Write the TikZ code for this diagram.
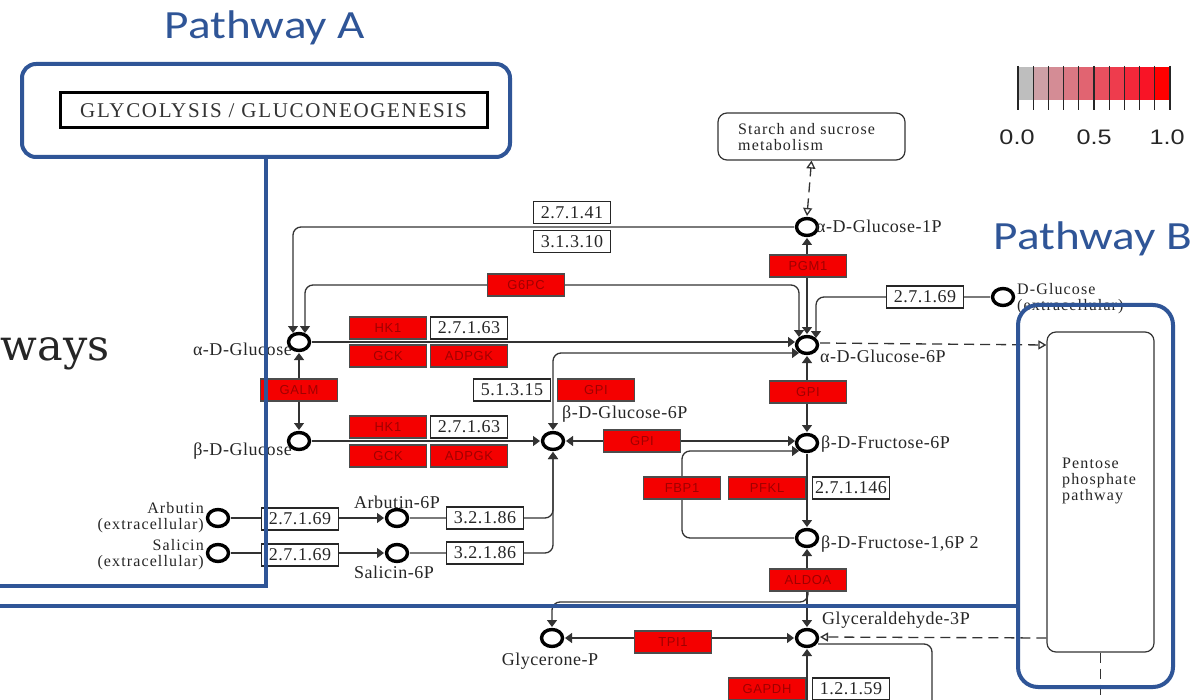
\documentclass[tikz,border=0pt]{standalone}
\usepackage{fontspec}
\usepackage{graphicx}
\usetikzlibrary{shapes.geometric,arrows.meta,calc}
\setmainfont{Liberation Serif}
\newfontfamily\keggfont{Liberation Serif}[LetterSpace=3]
\newfontfamily\keggwide{Liberation Serif}[LetterSpace=7]
\newfontfamily\enzfont{Liberation Sans}[LetterSpace=5]
\newfontfamily\calfont{Carlito}
\newfontfamily\bigserif{DejaVu Serif}
\newfontfamily\legfont{Liberation Sans}
\newfontfamily\ttlfont{Liberation Serif}[LetterSpace=8]
\definecolor{pblue}{HTML}{2F5597}
\definecolor{enzred}{HTML}{F40000}
\definecolor{enztxt}{HTML}{A00000}
\definecolor{lg0}{RGB}{190,190,190}
\definecolor{lg1}{RGB}{205,160,166}
\definecolor{lg2}{RGB}{212,140,149}
\definecolor{lg3}{RGB}{218,120,131}
\definecolor{lg4}{RGB}{225,100,113}
\definecolor{lg5}{RGB}{232,80,95}
\definecolor{lg6}{RGB}{238,60,77}
\definecolor{lg7}{RGB}{243,40,58}
\definecolor{lg8}{RGB}{248,20,38}
\definecolor{lg9}{RGB}{255,0,0}
\pgfdeclarelayer{bg}
\pgfdeclarelayer{lines}
\pgfsetlayers{bg,lines,main}
\tikzset{
  cpd/.style={ellipse, draw=black, line width=3.4pt, fill=white, minimum width=21pt, minimum height=17pt, inner sep=0pt},
  enz/.style={rectangle, draw=black!70, line width=1.1pt, fill=enzred, minimum width=77pt, minimum height=22pt, inner sep=0pt, font=\enzfont\fontsize{13}{13}\selectfont, text=enztxt},
  ecb/.style={rectangle, draw=black!85, line width=1.1pt, fill=white, minimum width=77pt, minimum height=22pt, inner sep=0pt, font=\keggfont\fontsize{18}{18}\selectfont, text=black!85},
  lbl/.style={font=\keggfont\fontsize{18}{14}\selectfont, inner sep=0pt, text=black!85},
  mlbl/.style={font=\keggwide\fontsize{16}{16}\selectfont, inner sep=0pt, text=black!85},
  conn/.style={draw=black!80, line width=1.3pt},
  karr/.style={-{Triangle[width=10pt,length=7pt]}},
  karr2/.style={{Triangle[width=10pt,length=7pt]}-{Triangle[width=10pt,length=7pt]}},
  kopen/.style={-{Triangle[open,width=9pt,length=8pt]}},
  kopen2/.style={{Triangle[open,width=9pt,length=8pt]}-{Triangle[open,width=9pt,length=8pt]}},
  kdash/.style={dash pattern=on 10pt off 6pt},
  blueline/.style={draw=pblue, line width=4pt},
}
\begin{document}
\begin{tikzpicture}[x=1pt,y=-1pt]
\useasboundingbox (0,0) rectangle (1201,700);
\begin{pgfonlayer}{bg}
\fill[white] (0,0) rectangle (1201,700);
\end{pgfonlayer}

% ---------- compounds ----------
\node[cpd] (ag1p) at (807,227) {};
\node[cpd] (ag6p) at (807,345) {};
\node[cpd] (bf6p) at (807,443) {};
\node[cpd] (bf16) at (807,538) {};
\node[cpd] (g3p) at (807,638) {};
\node[cpd] (gnp) at (552,638) {};
\node[cpd] (dglc) at (1003,297) {};
\node[cpd] (aglc) at (299,342) {};
\node[cpd] (bglc) at (299,441) {};
\node[cpd] (bg6p) at (553,441) {};
\node[cpd] (arb) at (218,518) {};
\node[cpd] (sal) at (218,553) {};
\node[cpd] (arb6) at (397,518) {};
\node[cpd] (sal6) at (397,553) {};

% ---------- compound labels ----------
\node[lbl, anchor=base west] (l-ag1p) at (816,233) {α-D-Glucose-1P};
\node[lbl, anchor=base west] (l-ag6p) at (820,362) {α-D-Glucose-6P};
\node[lbl, anchor=base west] (l-bf6p) at (821,448) {β-D-Fructose-6P};
\node[lbl, anchor=base west] (l-bf16) at (821,548) {β-D-Fructose-1,6P 2};
\node[lbl, anchor=base west] (l-g3p) at (822,624) {Glyceraldehyde-3P};
\node[lbl, anchor=base] (l-gnp) at (550,665) {Glycerone-P};
\node[mlbl, anchor=base west, align=left] (l-dglc) at (1017,311) {D-Glucose\\(extracellular)};
\node[lbl, anchor=base east] (l-aglc) at (292,355) {α-D-Glucose};
\node[lbl, anchor=base east] (l-bglc) at (292,455) {β-D-Glucose};
\node[lbl, anchor=base west] (l-bg6p) at (562,418) {β-D-Glucose-6P};
\node[lbl, anchor=base] (l-arb6) at (397,508) {Arbutin-6P};
\node[lbl, anchor=base] (l-sal6) at (394,578) {Salicin-6P};
\node[mlbl, anchor=base east, align=right] (l-arb) at (204,529) {Arbutin\\(extracellular)};
\node[mlbl, anchor=base east, align=right] (l-sal) at (204,566) {Salicin\\(extracellular)};

% ---------- enzymes (red) ----------
\node[enz] (pgm1) at (808,266) {PGM1};
\node[enz] (g6pc) at (526,285) {G6PC};
\node[enz] (hk1a) at (388,328) {HK1};
\node[enz] (gcka) at (388,356) {GCK};
\node[enz] (adpa) at (469,356) {ADPGK};
\node[enz] (galm) at (299,390) {GALM};
\node[enz] (gpia) at (596,390) {GPI};
\node[enz] (hk1b) at (388,427) {HK1};
\node[enz] (gckb) at (388,456) {GCK};
\node[enz] (adpb) at (469,456) {ADPGK};
\node[enz] (gpib) at (642,441) {GPI};
\node[enz] (gpic) at (808,392) {GPI};
\node[enz] (fbp1) at (682,488) {FBP1};
\node[enz] (pfkl) at (767,488) {PFKL};
\node[enz] (aldoa) at (808,580) {ALDOA};
\node[enz] (tpi1) at (673,642) {TPI1};
\node[enz] (gapdh) at (767,689) {GAPDH};

% ---------- EC numbers (white) ----------
\node[ecb] (ec1) at (572,212.5) {2.7.1.41};
\node[ecb] (ec2) at (572,241.5) {3.1.3.10};
\node[ecb] (ec3) at (469,328) {2.7.1.63};
\node[ecb] (ec4) at (512,390) {5.1.3.15};
\node[ecb] (ec5) at (469,427) {2.7.1.63};
\node[ecb] (ec6) at (925,297) {2.7.1.69};
\node[ecb] (ec7) at (851,488) {2.7.1.146};
\node[ecb] (ec8) at (851,689) {1.2.1.59};
\node[ecb] (ec9) at (300,519) {2.7.1.69};
\node[ecb] (ec10) at (300,555) {2.7.1.69};
\node[ecb] (ec11) at (485,518) {3.2.1.86};
\node[ecb] (ec12) at (485,553) {3.2.1.86};

% ---------- map boxes ----------
\node[draw=black!80, line width=1.2pt, rounded corners=9pt, minimum width=187pt, minimum height=47pt, inner sep=0pt, fill=white] (starch) at (811.5,136.5) {};
\node[mlbl, anchor=base west, align=left] (starchtxt) at (738,151) {Starch and sucrose\\metabolism};
\node[draw=black!80, line width=1.2pt, rounded corners=9pt, minimum width=107pt, minimum height=320pt, inner sep=0pt, fill=white] (ppp) at (1100.5,492) {};
\node[mlbl, anchor=base west, align=left] (ppptxt) at (1062,500) {Pentose\\phosphate\\pathway};
\node[draw=black, line width=3pt, minimum width=427pt, minimum height=35pt, inner sep=0pt, fill=white, font=\ttlfont\fontsize{21}{21}\selectfont, text=black!80] (glyc) at (273.5,110.5) {GLYCOLYSIS / GLUCONEOGENESIS};

\coordinate (gapend) at (807,703);
\coordinate (g3pend) at (932,703);

% ---------- connectors ----------
\begin{pgfonlayer}{lines}
\draw[conn, karr, rounded corners=8pt] ($(ag1p)+(-13,0)$) -| ($(aglc)+(-6,-9)$);
\draw[conn, karr2, rounded corners=8pt] ($(ag6p)+(-8,-8)$) |- (g6pc.east) -- (g6pc.west) -| ($(aglc)+(6,-9)$);
\draw[conn, karr] ($(aglc)+(13,0)$) -- ($(ag6p)+(-12,-3)$);
\draw[conn, karr2, rounded corners=8pt] ($(bg6p)+(0,-11)$) |- ($(ag6p)+(-8,8)$);
\draw[conn, karr2] ($(aglc)+(0,11)$) -- ($(bglc)+(0,-11)$);
\draw[conn, karr] ($(bglc)+(13,0)$) -- ($(bg6p)+(-13,0)$);
\draw[conn, karr2] ($(bg6p)+(13,0)$) -- ($(bf6p)+(-12,-2)$);
\draw[conn, karr, rounded corners=8pt] ($(bf16)+(-13,0)$) -| (fbp1.south) -- (fbp1.north) |- ($(bf6p)+(-8,8)$);
\draw[conn, karr2] ($(ag1p)+(0,11)$) -- ($(ag6p)+(0,-11)$);
\draw[conn, karr2] ($(ag6p)+(0,11)$) -- ($(bf6p)+(0,-11)$);
\draw[conn, karr] ($(bf6p)+(0,11)$) -- ($(bf16)+(0,-11)$);
\draw[conn, karr2] ($(bf16)+(0,11)$) -- ($(g3p)+(0,-11)$);
\draw[conn, karr, rounded corners=8pt] (aldoa.south) |- ($(gnp)+(0,-36)$) -- ($(gnp)+(0,-11)$);
\draw[conn, karr2] ($(gnp)+(13,0)$) -- ($(g3p)+(-13,0)$);
\draw[conn, {Triangle[width=10pt,length=7pt]}-] ($(g3p)+(0,11)$) -- (gapend);
\draw[conn, rounded corners=8pt] ($(g3p)+(11,6)$) -| (g3pend);
\draw[conn, kdash, kopen] (ppp.west |- g3p) -- ($(g3p)+(13,-1)$);
\draw[conn, kdash, kopen] ($(ag6p)+(13,-2)$) -- (ppp.west |- ag6p);
\draw[conn, kdash] (ppp.south) -- (ppp.south |- gapend);
\draw[conn, kdash, kopen2] ($(ag1p)+(0,-11)$) -- (starch.south);
\draw[conn, karr, rounded corners=8pt] ($(dglc)+(-13,0)$) -| ($(ag6p)+(9,-7)$);
\draw[conn, karr] ($(arb)+(13,0)$) -- ($(arb6)+(-13,0)$);
\draw[conn, karr, rounded corners=8pt] ($(arb6)+(13,0)$) -| ($(bg6p)+(0,11)$);
\draw[conn, karr] ($(sal)+(13,0)$) -- ($(sal6)+(-13,0)$);
\draw[conn, karr, rounded corners=8pt] ($(sal6)+(13,0)$) -| ($(bg6p)+(0,11)$);
\end{pgfonlayer}

% ---------- legend ----------
\foreach \i in {0,...,9} \fill[lg\i] ({1018+15.2*\i},67) rectangle ({1018+15.2*(\i+1)},100);
\foreach \i in {0,...,10} \draw[black!85, line width=1.1pt] ({1018+15.2*\i},66) -- ({1018+15.2*\i},110);
\node[font=\legfont\fontsize{21}{21}\selectfont, text=black!85, anchor=base] (lg00) at (1017,145) {\scalebox{1.2}[1]{0.0}};
\node[font=\legfont\fontsize{21}{21}\selectfont, text=black!85, anchor=base] (lg05) at (1094,145) {\scalebox{1.2}[1]{0.5}};
\node[font=\legfont\fontsize{21}{21}\selectfont, text=black!85, anchor=base] (lg10) at (1167,145) {\scalebox{1.2}[1]{1.0}};

% ---------- annotations ----------
\node[font=\calfont\fontsize{40}{40}\selectfont, text=pblue, anchor=base] (pathA) at (265,39) {\scalebox{1.18}[1]{Pathway A}};
\node[font=\calfont\fontsize{40}{40}\selectfont, text=pblue, anchor=base] (pathB) at (1093,250) {\scalebox{1.18}[1]{Pathway B}};
\node[font=\bigserif\fontsize{43}{43}\selectfont, text=black!85, anchor=base east] (ways) at (113,360) {ways};
\node[draw=pblue, line width=4pt, rounded corners=14pt, minimum width=488pt, minimum height=93pt, inner sep=0pt] (boxA) at (266,110.5) {};
\coordinate (aEnd) at (-3,586);
\draw[blueline] (boxA.south) |- (aEnd);
\node[draw=pblue, line width=4pt, rounded corners=20pt, minimum width=155pt, minimum height=382pt, inner sep=0pt] (boxB) at (1095.5,496) {};
\coordinate (bEnd) at (-3,606);
\draw[blueline] (bEnd) -- (bEnd -| boxB.west);
\end{tikzpicture}
\end{document}
